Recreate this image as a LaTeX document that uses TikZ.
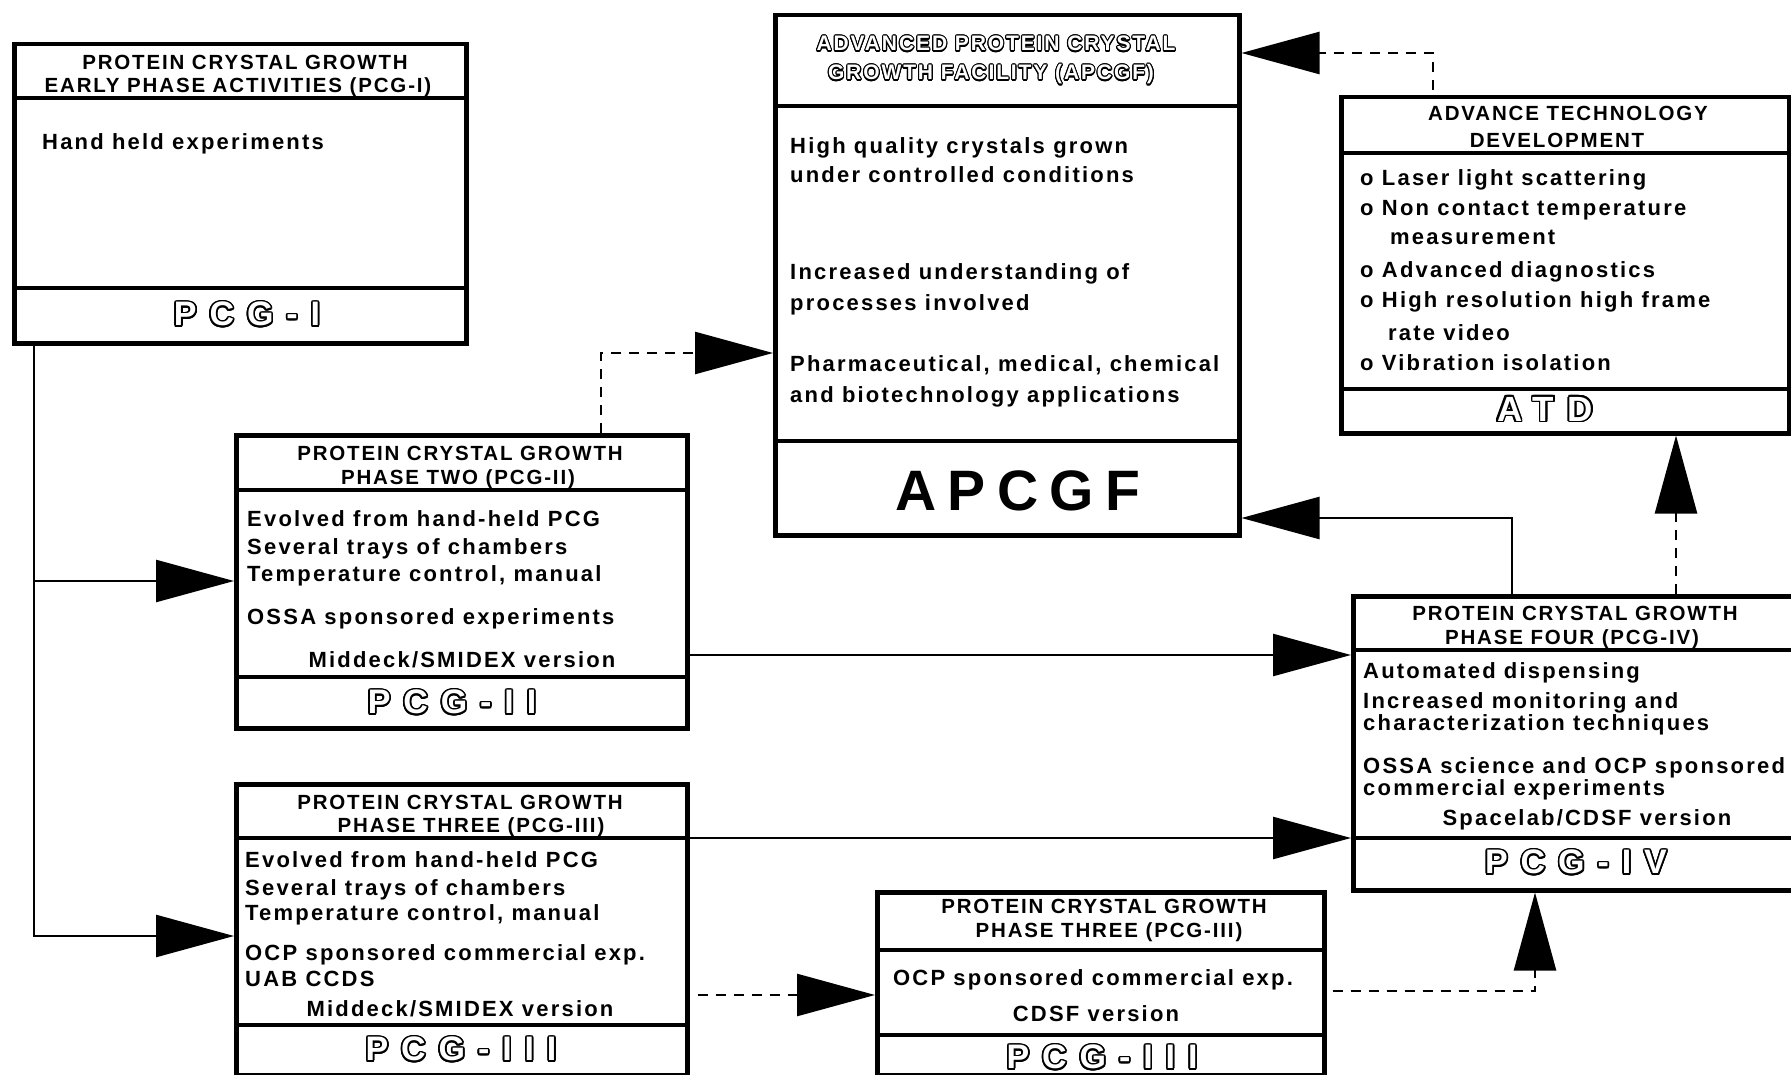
\documentclass[tikz,border=0pt]{standalone}
\usepackage{fontspec}
\usepackage[copies]{contour}
\usetikzlibrary{arrows.meta}
\setmainfont{Liberation Sans}
\newfontfamily\bodyf{Liberation Sans}[LetterSpace=10]
\newfontfamily\headf{Liberation Sans}[LetterSpace=9]
\newfontfamily\outf{Liberation Sans}[LetterSpace=38]
\newfontfamily\bigf{Liberation Sans}[LetterSpace=20]
\newcommand\olthick[1]{\contourlength{1.7pt}\contour{black}{#1}}
\newcommand\olthin[1]{\contourlength{1.1pt}\contour{black}{#1}}
\newcommand\mybox[7]{%
  \node[boxst, minimum width={#4-#2}, minimum height={#5-#3}] (#1) at (#2,#3) {};
  \draw[divider] (#1.west |- 0,#6) -- (#1.east |- 0,#6);
  \draw[divider] (#1.west |- 0,#7) -- (#1.east |- 0,#7);
}
\tikzset{
  boxst/.style={draw, line width=4.5pt, inner sep=0pt, anchor=north west},
  divider/.style={line width=3.5pt},
  body/.style={font=\bodyf\bfseries\fontsize{22}{26}\selectfont, inner sep=0pt, anchor=base west},
  bodyc/.style={body, anchor=base},
  head/.style={font=\headf\bfseries\fontsize{20.5}{24}\selectfont, inner sep=0pt, anchor=base},
  headol/.style={font=\headf\bfseries\fontsize{21}{24}\selectfont, inner sep=0pt, anchor=base, text=white},
  outl/.style={font=\outf\bfseries\fontsize{34}{38}\selectfont, inner sep=0pt, text=white, anchor=center},
  bigl/.style={font=\bigf\bfseries\fontsize{57}{62}\selectfont, inner sep=0pt, anchor=base},
  conn/.style={line width=2.5pt, -{Triangle[length=78pt,width=42pt]}},
  dconn/.style={conn, dash pattern=on 10pt off 8pt},
}
\begin{document}
\begin{tikzpicture}[x=1pt,y=-1pt]
\useasboundingbox[fill=white] (0,0) rectangle (1791,1075);

% boxes
\mybox{pcg1}{12}{42}{464}{341}{98}{288}
\mybox{apcgf}{773}{13}{1237}{533}{106}{441}
\mybox{atd}{1339}{95}{1787}{431}{153}{389}
\mybox{pcg2}{234}{433}{685}{726}{490}{677}
\mybox{pcg3}{234}{782}{685}{1073}{838}{1025}
\mybox{pcg3s}{875}{890}{1322}{1073}{950}{1035}
\mybox{pcg4}{1351}{594}{1800}{888}{650}{838}

% PCG-I
\node[head] (p1h1) at (245,69.5) {PROTEIN CRYSTAL GROWTH};
\node[head] (p1h2) at (238,92.5) {EARLY PHASE ACTIVITIES (PCG-I)};
\node[body] (p1b1) at (42,150) {Hand held experiments};
\node[outl] (p1f) at (247,315) {\olthick{PCG-I}};

% APCGF
\node[headol] (ah1) at (996,51) {\olthin{ADVANCED PROTEIN CRYSTAL}};
\node[headol] (ah2) at (991,80) {\olthin{GROWTH FACILITY (APCGF)}};
\node[body] (ab1) at (790,154) {High quality crystals grown};
\node[body] (ab2) at (790,183) {under controlled conditions};
\node[body] (ab3) at (790,280) {Increased understanding of};
\node[body] (ab4) at (790,311) {processes involved};
\node[body] (ab5) at (790,371) {Pharmaceutical, medical, chemical};
\node[body] (ab6) at (790,402) {and biotechnology applications};
\node[bigl] (af) at (1018,510) {APCGF};

% ATD
\node[head] (th1) at (1568,120.5) {ADVANCE TECHNOLOGY};
\node[head] (th2) at (1557,147.5) {DEVELOPMENT};
\node[body] (tb1) at (1360,186) {o Laser light scattering};
\node[body] (tb2) at (1360,216) {o Non contact temperature};
\node[body] (tb3) at (1390,245) {measurement};
\node[body] (tb4) at (1360,278) {o Advanced diagnostics};
\node[body] (tb5) at (1360,308) {o High resolution high frame};
\node[body] (tb6) at (1388,340) {rate video};
\node[body] (tb7) at (1360,370) {o Vibration isolation};
\node[outl, font=\outf\bfseries\fontsize{35}{38}\selectfont] (tf) at (1545,410) {\olthick{ATD}};

% PCG-II
\node[head] (q2h1) at (460,460.5) {PROTEIN CRYSTAL GROWTH};
\node[head] (q2h2) at (458,484.5) {PHASE TWO (PCG-II)};
\node[body] (q2b1) at (247,526) {Evolved from hand-held PCG};
\node[body] (q2b2) at (247,554) {Several trays of chambers};
\node[body] (q2b3) at (247,581) {Temperature control, manual};
\node[body] (q2b4) at (247,624) {OSSA sponsored experiments};
\node[bodyc] (q2b5) at (462,667) {Middeck/SMIDEX version};
\node[outl] (q2f) at (452,703) {\olthick{PCG-II}};

% PCG-III
\node[head] (q3h1) at (460,809.5) {PROTEIN CRYSTAL GROWTH};
\node[head] (q3h2) at (471,832.5) {PHASE THREE (PCG-III)};
\node[body] (q3b1) at (245,867) {Evolved from hand-held PCG};
\node[body] (q3b2) at (245,895) {Several trays of chambers};
\node[body] (q3b3) at (245,920) {Temperature control, manual};
\node[body] (q3b4) at (245,960) {OCP sponsored commercial exp.};
\node[body] (q3b5) at (245,986) {UAB CCDS};
\node[bodyc] (q3b6) at (460,1016) {Middeck/SMIDEX version};
\node[outl] (q3f) at (461,1050) {\olthick{PCG-III}};

% small PCG-III
\node[head] (s3h1) at (1104,913.5) {PROTEIN CRYSTAL GROWTH};
\node[head] (s3h2) at (1109,937.5) {PHASE THREE (PCG-III)};
\node[bodyc] (s3b1) at (1093,985) {OCP sponsored commercial exp.};
\node[bodyc] (s3b2) at (1096,1021) {CDSF version};
\node[outl] (s3f) at (1102,1058) {\olthick{PCG-III}};

% PCG-IV
\node[head] (q4h1) at (1575,620.5) {PROTEIN CRYSTAL GROWTH};
\node[head] (q4h2) at (1572,644.5) {PHASE FOUR (PCG-IV)};
\node[body] (q4b1) at (1363,678) {Automated dispensing};
\node[body] (q4b2) at (1363,708) {Increased monitoring and};
\node[body] (q4b3) at (1363,730) {characterization techniques};
\node[body] (q4b4) at (1363,773) {OSSA science and OCP sponsored};
\node[body] (q4b5) at (1363,795) {commercial experiments};
\node[bodyc] (q4b6) at (1587,825) {Spacelab/CDSF version};
\node[outl] (q4f) at (1576,863) {\olthick{PCG-IV}};

% connectors
\coordinate (j1) at (34,581);
\draw[conn] (pcg1.south -| j1) |- (pcg3.west |- 0,936);
\draw[conn] (j1) -- (pcg2.west |- j1);
\draw[conn] (pcg2.east |- 0,655) -- (pcg4.west |- 0,655);
\draw[conn] (pcg3.east |- 0,838) -- (pcg4.west |- 0,838);
\draw[dconn] (pcg2.north -| 601,0) |- (apcgf.west |- 0,353);
\draw[dconn, shorten <=8pt] (pcg3.east |- 0,995) -- (pcg3s.west |- 0,995);
\draw[dconn, shorten <=6pt] (pcg3s.east |- 0,991) -| (pcg4.south -| 1535,0);
\draw[conn] (pcg4.north -| 1512,0) |- (apcgf.east |- 0,518);
\draw[dconn] (pcg4.north -| 1676,0) -- (atd.south -| 1676,0);
\draw[dconn, shorten <=5pt] (atd.north -| 1433,0) |- (apcgf.east |- 0,53);
\end{tikzpicture}
\end{document}
